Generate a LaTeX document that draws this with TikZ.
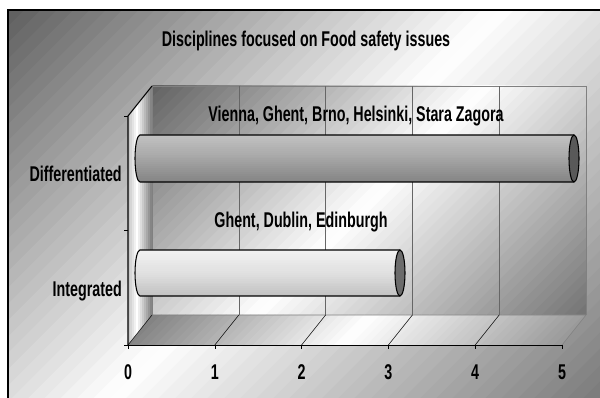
\documentclass[tikz,border=0pt]{standalone}
\usepackage{fontspec}
\setmainfont[FakeStretch=0.67]{Liberation Sans}
\usepackage{tikz}

% diagonal grey-white-grey stripes: from x-y=#1 to x-y=#2, dark #3 -> white -> dark #4
\newcommand{\diagfill}[4]{%
  \foreach \k in {0,...,59} {
    \pgfmathsetmacro{\dcwid}{(#2-#1)/60}
    \pgfmathsetmacro{\dcpos}{#1+\dcwid*\k}
    \pgfmathsetmacro{\dtval}{(\k+0.5)/60}
    \pgfmathsetmacro{\dval}{\dtval<0.5 ? #3*(1-2*\dtval) : #4*(2*\dtval-1)}
    \fill[black!\dval] (\dcpos-420,-420) -- ++(840,840) -- ++(\dcwid+1,0) -- ++(-840,-840) -- cycle;
  }}

% horizontal bands of a bar: x #1..#2, y #3..#4, grey #5 (bottom), #6 (middle), #7 (top)
\newcommand{\rowfill}[7]{%
  \foreach \k in {0,...,23} {
    \pgfmathsetmacro{\rh}{(#4-#3)/24}
    \pgfmathsetmacro{\ry}{#3+\rh*\k}
    \pgfmathsetmacro{\rt}{(\k+0.5)/24}
    \pgfmathsetmacro{\rv}{\rt<0.5 ? #5+(#6-#5)*2*\rt : #6+(#7-#6)*(2*\rt-1)}
    \fill[black!\rv] (#1,\ry) rectangle (#2,\ry+\rh+0.6);
  }}

\begin{document}
\begin{tikzpicture}[x=0.75pt,y=0.75pt,
    txt/.style={font=\bfseries\fontsize{16}{18}\selectfont, inner sep=0pt},
    barcap/.style={draw=black, line width=0.8pt}]

\useasboundingbox (0,0) rectangle (600,398);

% Chart area background
\fill[white] (0,0) rectangle (600,398);
\begin{scope}
  \clip (8,-4) rectangle (604,388);
  \diagfill{-380}{600}{63}{52}
\end{scope}
\draw[line width=1.6pt] (8,-6) -- (8,388) -- (604,388);

% Title
\node[txt] (title) at (306,357) {Disciplines focused on Food safety issues};

% Back wall
\begin{scope}
  \clip (152,83) rectangle (586,312);
  \diagfill{-160}{503}{62}{55}
\end{scope}
\draw[black!50] (152,83) -- (152,312) -- (586,312) -- (586,83);

% Floor
\begin{scope}
  \clip (128,53) -- (152,83) -- (586,83) -- (562,53) -- cycle;
  \diagfill{45}{533}{55}{45}
\end{scope}
\draw[black!50] (152,83) -- (586,83) -- (562,53);

% Side wall
\begin{scope}
  \clip (128,282) -- (152,312) -- (152,83) -- (128,53) -- cycle;
  \foreach \k in {0,...,11} {
    \pgfmathsetmacro{\sv}{\k<4 ? 22*(1-\k/4) : 48*(\k-4)/7}
    \fill[black!\sv] (128+2*\k,40) rectangle (130.6+2*\k,320);
  }
\end{scope}
\draw[thick] (128,53) -- (128,282) -- (152,312);

% Grid lines on the wall and the floor
\foreach \i in {1,2,3,4} {
    \draw[black!60] (152+86.8*\i,83) -- (152+86.8*\i,312);
}
\foreach \i in {0,1,2,3,4}
    \draw (128+86.8*\i,53) -- (152+86.8*\i,83);

% Value axis with ticks
\draw (128,53) -- (562,53);
\foreach \i in {0,1,2,3,4,5} {
    \draw (128+86.8*\i,53) -- ++(0,-4);
    \node[txt, anchor=base] (t\i) at (128+86.8*\i,18) {\i};
}

% Category axis ticks
\foreach \y in {282,168,53}
    \draw (128,\y) -- ++(-4,0);

% Category labels
\node[txt, anchor=base east] (cat-diff) at (122,216) {Differentiated};
\node[txt, anchor=base east] (cat-int) at (122,101) {Integrated};

% Data labels
\node[txt, anchor=base] (lbl-diff) at (356,276) {Vienna, Ghent, Brno, Helsinki, Stara Zagora};
\node[txt, anchor=base] (lbl-int) at (301,170) {Ghent, Dublin, Edinburgh};

% Differentiated bar
\begin{scope}
  \clip (140,263) -- (574,263) -- (574,216) -- (140,216)
      arc[start angle=270, end angle=90, x radius=5, y radius=23.5] -- cycle;
  \rowfill{130}{576}{216}{263}{48}{35}{24}
\end{scope}
\draw[barcap] (574,263) -- (140,263)
    arc[start angle=90, end angle=270, x radius=5, y radius=23.5] -- (574,216);
\draw[barcap, fill=black!65] (574,239.5) ellipse[x radius=5, y radius=23.5];

% Integrated bar
\begin{scope}
  \clip (140,148) -- (400,148) -- (400,102) -- (140,102)
      arc[start angle=270, end angle=90, x radius=5, y radius=23] -- cycle;
  \rowfill{130}{402}{102}{148}{24}{12}{5}
\end{scope}
\draw[barcap] (400,148) -- (140,148)
    arc[start angle=90, end angle=270, x radius=5, y radius=23] -- (400,102);
\draw[barcap, fill=black!58] (400,125) ellipse[x radius=5, y radius=23];

\end{tikzpicture}
\end{document}
